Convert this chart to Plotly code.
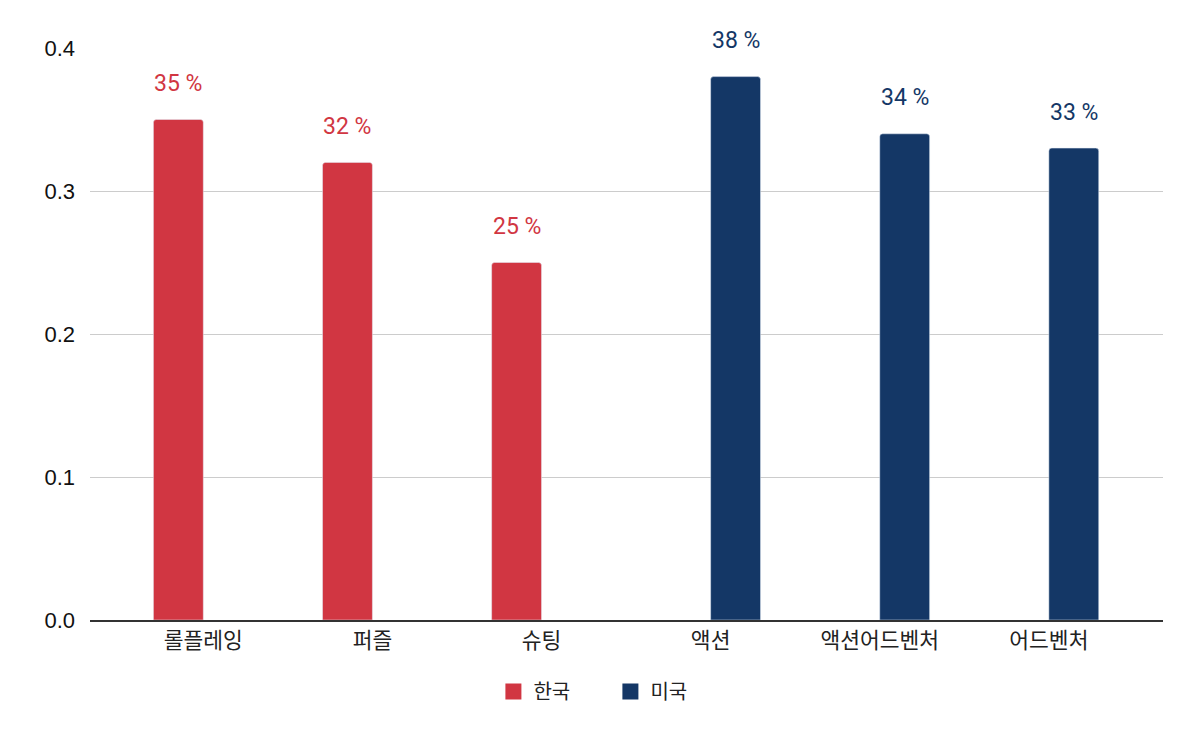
import plotly.graph_objects as go

categories = ["롤플레잉", "퍼즐", "슈팅", "액션", "액션어드벤처", "어드벤처"]
korea_vals = [0.35, 0.32, 0.25, None, None, None]
usa_vals = [None, None, None, 0.38, 0.34, 0.33]
y_ticks = [0.0, 0.1, 0.2, 0.3, 0.4]

RED = "#D13642"
BLUE = "#143766"

fig = go.Figure()
fig.add_trace(go.Bar(name="한국", x=categories, y=korea_vals, marker_color=RED, showlegend=False))
fig.add_trace(go.Bar(name="미국", x=categories, y=usa_vals, marker_color=BLUE, showlegend=False))
# legend entries with larger square swatches
fig.add_trace(go.Scatter(name="한국", x=[None], y=[None], mode="markers",
                         marker=dict(symbol="square", size=23, color=RED)))
fig.add_trace(go.Scatter(name="미국", x=[None], y=[None], mode="markers",
                         marker=dict(symbol="square", size=23, color=BLUE)))

for vals, color, shift in [(korea_vals, RED, -25), (usa_vals, BLUE, 25)]:
    for c, v in zip(categories, vals):
        if v is None:
            continue
        fig.add_annotation(x=c, y=v, text=f"{round(v*100)} %", showarrow=False,
                           xshift=shift, yshift=36, bgcolor="white",
                           font=dict(family="Roboto", size=23, color=color))

fig.update_layout(
    width=1200, height=742,
    margin=dict(l=90, r=37, t=48, b=122),
    plot_bgcolor="white", paper_bgcolor="white",
    barmode="group", bargap=0.41, barcornerradius=3,
    showlegend=True,
    legend=dict(orientation="h", x=0.485, xanchor="center", y=-0.125, yanchor="middle",
                font=dict(family="Noto Sans CJK KR", size=20, color="#222"),
                itemsizing="trace", itemwidth=30, entrywidth=72),
    xaxis=dict(categoryorder="array", categoryarray=categories, range=[-0.67, 5.675],
               showline=True, linecolor="#333", linewidth=2, ticks="",
               tickfont=dict(family="Noto Sans CJK KR", size=21.5, color="#222")),
    yaxis=dict(range=[0, 0.4], tickvals=y_ticks, tickformat=".1f",
               showgrid=True, gridcolor="#CCCCCC", gridwidth=1, zeroline=False,
               tickfont=dict(family="Liberation Sans", size=22, color="#111"),
               ticklabelstandoff=14),
)

fig.write_html("out.html", config={"displayModeBar": False},
               post_script="document.body.style.margin='0px';")
